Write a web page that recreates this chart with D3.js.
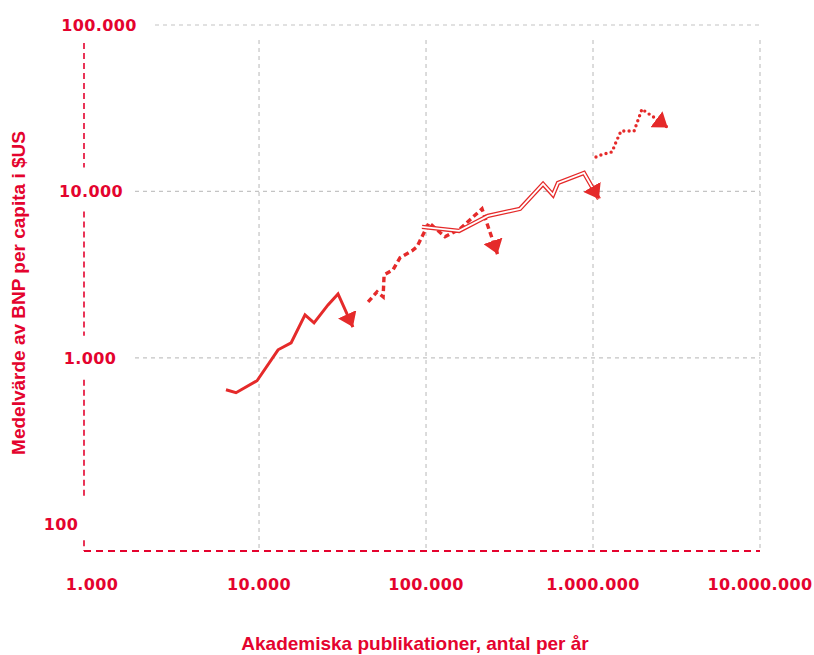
<!DOCTYPE html>
<html>
<head>
<meta charset="utf-8">
<script src="https://cdn.jsdelivr.net/npm/d3@7"></script>
<style>
  body { margin: 0; background: #fff; }
  svg { display: block; }
</style>
</head>
<body>
<div id="vis"></div>
<script>
// values (x = publications per year, y = mean GDP per capita, $US)
// last point of each series is where the arrow head points
var lowX  = [6340, 7280, 9730, 13000, 15560, 18850, 21350, 25880, 29720, 36500];
var lowY  = [643, 617, 728, 1117, 1230, 1812, 1622, 2080, 2422, 1530];

var lowMidX = [44980, 50900, 55340, 56100, 63450, 69840, 82400, 88300, 104200, 130000, 159900, 216400, 268000];
var lowMidY = [2168, 2490, 2323, 3148, 3378, 3990, 4396, 4650, 6475, 5336, 5960, 7855, 4200];

var upMidX = [94600, 157700, 235000, 365400, 502000, 575800, 617000, 883000, 1085000];
var upMidY = [6120, 5790, 7130, 7855, 11090, 9530, 11250, 12910, 9000];

var highX = [1042000, 1117000, 1300000, 1374000, 1472000, 1762000, 1965000, 2076000, 2350000, 2800000];
var highY = [16100, 16560, 17270, 19820, 23070, 23070, 31270, 29990, 27610, 24200];

var xTicks = [1000, 10000, 100000, 1000000, 10000000];
var yTicks = [100, 1000, 10000, 100000];
var xTitle = 'Akademiska publikationer, antal per år';
var yTitle = 'Medelvärde av BNP per capita i $US';

var red = '#e52a2a';
var labelRed = '#e4032e';

var width = 814, height = 655;

var svg = d3.select('#vis')
  .append('svg')
  .attr('width', width)
  .attr('height', height);

// log scales
var x = d3.scaleLog().domain([895, 1e7]).range([84, 760]);
var y = d3.scaleLog().domain([69, 1e5]).range([551, 25]);

// thousands separator with dots
var fmt = function(v){ return d3.format(',')(v).replace(/,/g, '.'); };

// grid lines
var gridStart = {100000: 155, 10000: 135, 1000: 135};
svg.append('g').selectAll('line')
  .data(yTicks.filter(function(d){ return d > 100; }))
  .enter().append('line')
  .attr('x1', function(d){ return gridStart[d]; })
  .attr('x2', x(1e7))
  .attr('y1', function(d){ return y(d); })
  .attr('y2', function(d){ return y(d); })
  .attr('stroke', '#c4c4c4')
  .attr('stroke-width', 1.2)
  .attr('stroke-dasharray', '4,4');

svg.append('g').selectAll('line')
  .data(xTicks.slice(1))
  .enter().append('line')
  .attr('x1', function(d){ return x(d); })
  .attr('x2', function(d){ return x(d); })
  .attr('y1', 40)
  .attr('y2', 548)
  .attr('stroke', '#c4c4c4')
  .attr('stroke-width', 1.2)
  .attr('stroke-dasharray', '4,4');

// y axis: dashed red line broken around the labels
var segs = [];
var bounds = [y(1e5) + 18, y(1e4) - 24, y(1e4) + 20, y(1e3) - 22, y(1e3) + 22, y(100) - 28, y(100) + 16, 551];
for (var i = 0; i < bounds.length; i += 2) segs.push([bounds[i], bounds[i+1]]);
svg.append('g').selectAll('line')
  .data(segs)
  .enter().append('line')
  .attr('x1', 84).attr('x2', 84)
  .attr('y1', function(d){ return d[0]; })
  .attr('y2', function(d){ return d[1]; })
  .attr('stroke', labelRed)
  .attr('stroke-width', 1.6)
  .attr('stroke-dasharray', '6,4');

// x axis
svg.append('line')
  .attr('x1', 84).attr('x2', x(1e7))
  .attr('y1', 551).attr('y2', 551)
  .attr('stroke', labelRed)
  .attr('stroke-width', 1.8)
  .attr('stroke-dasharray', '7,5');

// tick labels
var tickFont = '"DejaVu Sans", sans-serif';
var yLabelX = {100000: 99, 10000: 91, 1000: 90, 100: 61};
svg.append('g').selectAll('text')
  .data(yTicks)
  .enter().append('text')
  .attr('x', function(d){ return yLabelX[d]; })
  .attr('y', function(d){ return y(d); })
  .attr('dy', '0.36em')
  .attr('text-anchor', 'middle')
  .attr('font-family', tickFont)
  .attr('font-weight', 'bold')
  .attr('font-size', 16)
  .attr('letter-spacing', 0.4)
  .attr('fill', labelRed)
  .text(fmt);

svg.append('g').selectAll('text')
  .data(xTicks)
  .enter().append('text')
  .attr('x', function(d){ return x(d); })
  .attr('y', 590)
  .attr('text-anchor', 'middle')
  .attr('font-family', tickFont)
  .attr('font-weight', 'bold')
  .attr('font-size', 16)
  .attr('letter-spacing', 0.4)
  .attr('fill', labelRed)
  .text(fmt);

// axis titles
svg.append('text')
  .attr('x', 415)
  .attr('y', 650)
  .attr('text-anchor', 'middle')
  .attr('font-family', '"Liberation Sans", Arial, sans-serif')
  .attr('font-weight', 'bold')
  .attr('font-size', 19)
  .attr('fill', labelRed)
  .text(xTitle);

svg.append('text')
  .attr('transform', 'translate(25,293) rotate(-90)')
  .attr('text-anchor', 'middle')
  .attr('font-family', '"Liberation Sans", Arial, sans-serif')
  .attr('font-weight', 'bold')
  .attr('font-size', 19)
  .attr('fill', labelRed)
  .text(yTitle);

// arrow head marker
svg.append('defs').append('marker')
  .attr('id', 'arrow')
  .attr('markerUnits', 'userSpaceOnUse')
  .attr('viewBox', '0 -10 14 20')
  .attr('refX', 14)
  .attr('refY', 0)
  .attr('markerWidth', 14)
  .attr('markerHeight', 20)
  .attr('orient', 'auto')
  .append('path')
  .attr('d', 'M0,-10L14,0L0,10Z')
  .attr('fill', red);

var line = d3.line()
  .x(function(d){ return x(d[0]); })
  .y(function(d){ return y(d[1]); });

function pts(xs, ys){ return xs.map(function(v, i){ return [v, ys[i]]; }); }

var low = pts(lowX, lowY),
    lowMid = pts(lowMidX, lowMidY),
    upMid = pts(upMidX, upMidY),
    high = pts(highX, highY);

// solid line
svg.append('path')
  .attr('d', line(low))
  .attr('fill', 'none')
  .attr('stroke', red)
  .attr('stroke-width', 3)
  .attr('stroke-linejoin', 'miter');

// dashed line
svg.append('path')
  .attr('d', line(lowMid))
  .attr('fill', 'none')
  .attr('stroke', red)
  .attr('stroke-width', 3.4)
  .attr('stroke-dasharray', '5.5,3.5');

// double line: thick red with white core
svg.append('path')
  .attr('d', line(upMid))
  .attr('fill', 'none')
  .attr('stroke', red)
  .attr('stroke-width', 4.4);
svg.append('path')
  .attr('d', line(upMid))
  .attr('fill', 'none')
  .attr('stroke', '#fff')
  .attr('stroke-width', 1.8);

// dotted line
svg.append('path')
  .attr('d', line(high))
  .attr('fill', 'none')
  .attr('stroke', red)
  .attr('stroke-width', 3.4)
  .attr('stroke-linecap', 'round')
  .attr('stroke-dasharray', '0,5.3');

// arrow heads on the final segment of each series
[low, lowMid, upMid, high].forEach(function(s){
  svg.append('path')
    .attr('d', line(s.slice(-2)))
    .attr('fill', 'none')
    .attr('stroke', 'none')
    .attr('marker-end', 'url(#arrow)');
});
</script>
</body>
</html>
